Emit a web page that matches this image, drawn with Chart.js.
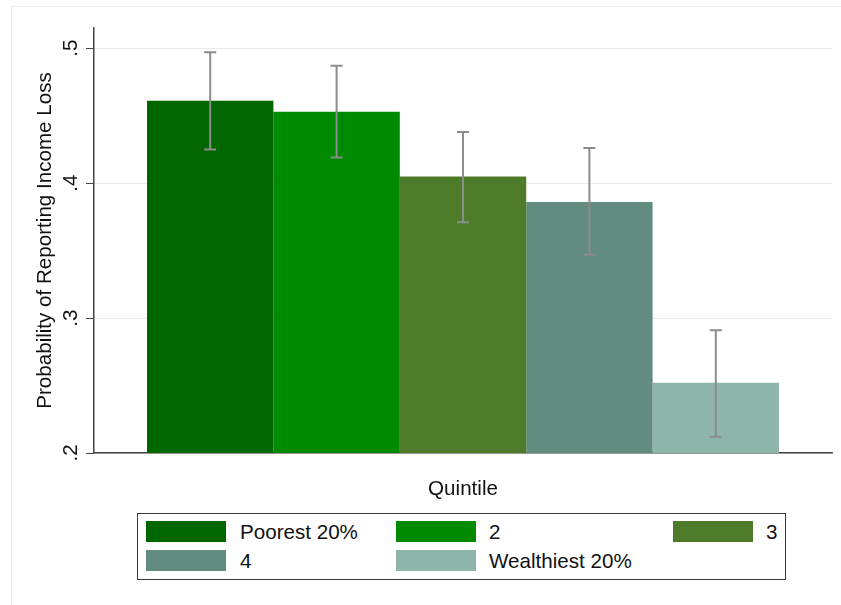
<!DOCTYPE html>
<html>
<head>
<meta charset="utf-8">
<script src="https://cdn.jsdelivr.net/npm/chart.js@4/dist/chart.umd.min.js"></script>
<style>
  html, body { margin: 0; padding: 0; background: #fff; }
  body { width: 841px; height: 605px; position: relative; overflow: hidden;
         font-family: "Liberation Sans", Arial, Helvetica, sans-serif; color: #111; }
  #frame { position: absolute; left: 11px; top: 6px; width: 900px; height: 700px;
           border-left: 1px solid #eceef2; border-top: 1px solid #eceef2; }
  #wrap { position: absolute; left: 0; top: 0; width: 841px; height: 502px; }
  #legend { position: absolute; left: 137px; top: 513px; width: 649px; height: 67px;
            border: 1.5px solid #3a3a3a; box-sizing: border-box; background: #fff; }
  .sw { position: absolute; width: 80px; height: 21px; }
  .lb { position: absolute; font-size: 20.6px; line-height: 22px; white-space: nowrap; }
</style>
</head>
<body>
<div id="frame"></div>
<div id="wrap"><canvas id="chart" width="841" height="502"></canvas></div>
<div id="legend"></div>
<script>
// Income quintile groups, mean probability and 95% interval bounds
const quintiles = ['Poorest 20%', '2', '3', '4', 'Wealthiest 20%'];
const meanProb  = [0.461, 0.453, 0.405, 0.386, 0.252];
const ciLow     = [0.425, 0.419, 0.371, 0.347, 0.212];
const ciHigh    = [0.497, 0.487, 0.438, 0.426, 0.291];
const yTickValues = [0.2, 0.3, 0.4, 0.5];
const yTickLabels = ['.2', '.3', '.4', '.5'];

const barColors = ['#006600', '#008a00', '#4d7b2a', '#638c80', '#8fb6ab'];
const FONT = '"Liberation Sans", Arial, Helvetica, sans-serif';
const FONT_SIZE = 20.6;

// Capped vertical whiskers for the confidence intervals
const errorBars = {
  id: 'errorBars',
  afterDatasetsDraw(chart) {
    const ctx = chart.ctx;
    const y = chart.scales.y;
    ctx.save();
    ctx.strokeStyle = '#8c8c8c';
    ctx.lineWidth = 2;
    chart.data.datasets.forEach((ds, i) => {
      const bar = chart.getDatasetMeta(i).data[0];
      const x = bar.x;
      const yLo = y.getPixelForValue(ciLow[i]);
      const yHi = y.getPixelForValue(ciHigh[i]);
      ctx.beginPath();
      ctx.moveTo(x, yLo); ctx.lineTo(x, yHi);
      ctx.moveTo(x - 6, yLo); ctx.lineTo(x + 6, yLo);
      ctx.moveTo(x - 6, yHi); ctx.lineTo(x + 6, yHi);
      ctx.stroke();
    });
    ctx.restore();
  }
};

// Y tick labels written vertically, reading bottom to top
const rotatedTicks = {
  id: 'rotatedTicks',
  afterDraw(chart) {
    const ctx = chart.ctx;
    const y = chart.scales.y;
    ctx.save();
    ctx.fillStyle = '#111';
    ctx.font = FONT_SIZE + 'px ' + FONT;
    ctx.textAlign = 'center';
    ctx.textBaseline = 'middle';
    yTickValues.forEach((v, i) => {
      const py = y.getPixelForValue(v);
      ctx.save();
      ctx.translate(71, py);
      ctx.rotate(-Math.PI / 2);
      ctx.fillText(yTickLabels[i], 0, 0);
      ctx.restore();
    });
    ctx.restore();
  }
};

const chart = new Chart(document.getElementById('chart'), {
  type: 'bar',
  data: {
    labels: [''],
    datasets: quintiles.map((q, i) => ({
      label: q,
      data: [meanProb[i]],
      backgroundColor: barColors[i],
      borderWidth: 0,
      categoryPercentage: 0.8564,
      barPercentage: 1.0
    }))
  },
  options: {
    responsive: false,
    animation: false,
    layout: { padding: { left: 0, top: 28, right: 9, bottom: 0 } },
    plugins: { legend: { display: false }, tooltip: { enabled: false } },
    scales: {
      x: {
        ticks: { display: false },
        grid: { display: false, drawTicks: false },
        border: { display: true, color: '#444', width: 1.5 },
        title: { display: true, text: 'Quintile', color: '#111',
                 font: { family: FONT, size: FONT_SIZE }, padding: { top: 0, bottom: 0 } },
        afterFit(scale) { scale.height = 49; }
      },
      y: {
        min: 0.2,
        max: 0.515,
        afterBuildTicks(scale) { scale.ticks = yTickValues.map(v => ({ value: v })); },
        ticks: { display: false },
        grid: { color: '#e9e9e9', lineWidth: 1, tickColor: '#444', tickLength: 8, drawTicks: true },
        border: { display: true, color: '#444', width: 1.5 },
        title: { display: true, text: 'Probability of Reporting Income Loss', color: '#111',
                 font: { family: FONT, size: FONT_SIZE }, padding: { top: 33, bottom: 0 } },
        afterFit(scale) { scale.width = 94; }
      }
    }
  },
  plugins: [errorBars, rotatedTicks]
});

// Boxed legend in three columns
const legend = document.getElementById('legend');
const swatchLeft = [8, 258, 535];
const textLeft = [102, 351, 628];
chart.data.datasets.forEach((ds, i) => {
  const col = i % 3, row = Math.floor(i / 3);
  const top = row === 0 ? 7 : 36;
  const sw = document.createElement('div');
  sw.className = 'sw';
  sw.style.left = swatchLeft[col] + 'px';
  sw.style.top = top + 'px';
  sw.style.background = ds.backgroundColor;
  legend.appendChild(sw);
  const lb = document.createElement('div');
  lb.className = 'lb';
  lb.style.left = textLeft[col] + 'px';
  lb.style.top = top + 'px';
  lb.textContent = ds.label;
  legend.appendChild(lb);
});
</script>
</body>
</html>
